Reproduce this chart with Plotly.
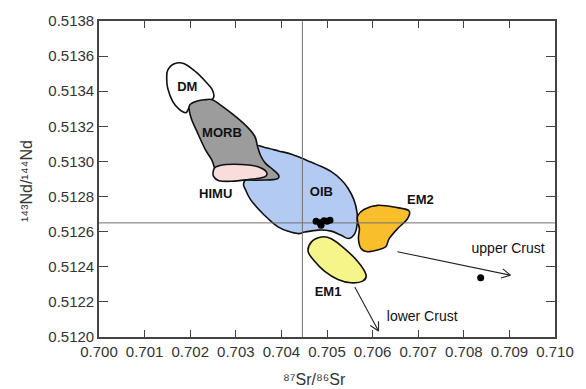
import math
import plotly.graph_objects as go

# Reservoir fields in Sr-Nd isotope space (outline vertices: 87Sr/86Sr, 143Nd/144Nd)
oib_sr = [0.703413, 0.703652, 0.703935, 0.704224, 0.704515, 0.704804, 0.705093, 0.705311,
          0.705457, 0.705587, 0.705659, 0.705659, 0.705609, 0.705478, 0.705311, 0.705093,
          0.704804, 0.704515, 0.704370, 0.704152, 0.703935, 0.703717, 0.703500, 0.703320,
          0.703211, 0.703174, 0.703326]
oib_nd = [0.513084, 0.513078, 0.513060, 0.513041, 0.513011, 0.512979, 0.512942, 0.512896,
          0.512849, 0.512784, 0.512709, 0.512637, 0.512589, 0.512561, 0.512579, 0.512603,
          0.512609, 0.512598, 0.512589, 0.512602, 0.512626, 0.512672, 0.512728, 0.512784,
          0.512840, 0.512877, 0.512961]

dm_sr = [0.701507, 0.701652, 0.701870, 0.702124, 0.702341, 0.702485, 0.702507, 0.702341,
         0.702124, 0.701978, 0.701907, 0.701761, 0.701615, 0.701507, 0.701485]
dm_nd = [0.513520, 0.513557, 0.513557, 0.513510, 0.513454, 0.513408, 0.513361, 0.513342,
         0.513334, 0.513306, 0.513278, 0.513296, 0.513342, 0.513417, 0.513473]

morb_sr = [0.701978, 0.702124, 0.702341, 0.702485, 0.702652, 0.702924, 0.703211, 0.703413,
           0.703478, 0.703543, 0.703652, 0.703826, 0.703935, 0.703913, 0.703652, 0.703211,
           0.702739, 0.702565, 0.702478, 0.702326, 0.702152, 0.702022]
morb_nd = [0.513315, 0.513342, 0.513352, 0.513352, 0.513324, 0.513271, 0.513207, 0.513145,
           0.513084, 0.513034, 0.512989, 0.512951, 0.512923, 0.512902, 0.512894, 0.512894,
           0.512900, 0.512944, 0.513006, 0.513070, 0.513168, 0.513246]

himu_sr = [0.702565, 0.702783, 0.703283, 0.703565, 0.703685, 0.703587, 0.703283, 0.702913,
           0.702630, 0.702511, 0.702511]
himu_nd = [0.512969, 0.512983, 0.512980, 0.512961, 0.512930, 0.512908, 0.512897, 0.512887,
           0.512890, 0.512916, 0.512950]

em1_sr = [0.704659, 0.704876, 0.705093, 0.705385, 0.705674, 0.705854, 0.705783, 0.705528,
          0.705239, 0.704950, 0.704733, 0.704587]
em1_nd = [0.512542, 0.512570, 0.512560, 0.512504, 0.512430, 0.512356, 0.512318, 0.512309,
          0.512328, 0.512374, 0.512430, 0.512486]

em2_sr = [0.705674, 0.705820, 0.706109, 0.706543, 0.706798, 0.706761, 0.706543, 0.706363,
          0.706289, 0.706109, 0.705891, 0.705746, 0.705689, 0.705711, 0.705674]
em2_nd = [0.512691, 0.512728, 0.512750, 0.512737, 0.512719, 0.512672, 0.512616, 0.512560,
          0.512514, 0.512496, 0.512486, 0.512504, 0.512560, 0.512616, 0.512654]

# Samples
sample_sr = [0.704761, 0.704848, 0.704870, 0.704935, 0.705000, 0.705065, 0.708370]
sample_nd = [0.512659, 0.512651, 0.512637, 0.512662, 0.512659, 0.512665, 0.512337]

# Bulk-earth reference values
bulk_sr = 0.70446
bulk_nd = 0.51265

# Mixing trends toward crustal end-members: (start Sr, start Nd, end Sr, end Nd)
upper_crust_arrow = (0.706543, 0.512486, 0.709022, 0.512352)
lower_crust_arrow = (0.705609, 0.512285, 0.706130, 0.512034)

# Field and end-member labels with their anchor positions
region_names = ["DM", "MORB", "HIMU", "OIB", "EM2", "EM1"]
region_label_sr = [0.701935, 0.702696, 0.702559, 0.704876, 0.707050, 0.705022]
region_label_nd = [0.513419, 0.513156, 0.512812, 0.512821, 0.512775, 0.512253]
crust_names = ["upper Crust", "lower Crust"]
crust_label_sr = [0.708972, 0.707087]
crust_label_nd = [0.512496, 0.512110]

x_title = "⁸⁷Sr/⁸⁶Sr"
y_title = "¹⁴³Nd/¹⁴⁴Nd"

x_range = [0.700, 0.710]
y_range = [0.5120, 0.5138]
x_ticks = [0.700, 0.701, 0.702, 0.703, 0.704, 0.705, 0.706, 0.707, 0.708, 0.709, 0.710]
y_ticks = [0.5120, 0.5122, 0.5124, 0.5126, 0.5128, 0.5130, 0.5132, 0.5134, 0.5136, 0.5138]

fields = [
    ("OIB", oib_sr, oib_nd, "#b3cbf3"),
    ("DM", dm_sr, dm_nd, "#ffffff"),
    ("MORB", morb_sr, morb_nd, "#9c9c9c"),
    ("HIMU", himu_sr, himu_nd, "#f9dcdc"),
    ("EM1", em1_sr, em1_nd, "#f5f58a"),
    ("EM2", em2_sr, em2_nd, "#f8be2c"),
]

WIDTH, HEIGHT = 586, 389
MARGIN = dict(l=99, r=27, t=15, b=52)
# Pixels per data unit along each axis (used for arrowhead geometry)
PX_X = (WIDTH - MARGIN["l"] - MARGIN["r"]) / (x_range[1] - x_range[0])
PX_Y = (HEIGHT - MARGIN["t"] - MARGIN["b"]) / (y_range[1] - y_range[0])
FONT = "Liberation Sans, Arial, sans-serif"


def closed_smooth_path(xs, ys):
    """Closed Catmull-Rom curve through the vertices, written as cubic Bezier SVG path."""
    n = len(xs)
    parts = [f"M {xs[0]},{ys[0]}"]
    for i in range(n):
        i0, i1, i2, i3 = (i - 1) % n, i, (i + 1) % n, (i + 2) % n
        c1x = xs[i1] + (xs[i2] - xs[i0]) / 6
        c1y = ys[i1] + (ys[i2] - ys[i0]) / 6
        c2x = xs[i2] - (xs[i3] - xs[i1]) / 6
        c2y = ys[i2] - (ys[i3] - ys[i1]) / 6
        parts.append(f"C {c1x:.7f},{c1y:.7f} {c2x:.7f},{c2y:.7f} {xs[i2]},{ys[i2]}")
    parts.append("Z")
    return " ".join(parts)


def open_head(x0, y0, x1, y1, length=10, half_angle=28):
    """Two barbs of an open V arrowhead at (x1, y1), measured in screen pixels."""
    dx, dy = (x1 - x0) * PX_X, (y1 - y0) * PX_Y
    ang = math.atan2(dy, dx)
    xs, ys = [], []
    for sgn in (1, -1):
        a = ang + math.pi - sgn * math.radians(half_angle)
        xs.append(x1 + length * math.cos(a) / PX_X)
        ys.append(y1 + length * math.sin(a) / PX_Y)
    return [xs[0], x1, xs[1]], [ys[0], y1, ys[1]]


fig = go.Figure()
for name, xs, ys, color in fields:
    fig.add_shape(type="path", path=closed_smooth_path(xs, ys), xref="x", yref="y",
                  fillcolor=color, line=dict(color="#111111", width=1.6), layer="below",
                  name=name)

# Bulk-earth crosshair
fig.add_trace(go.Scatter(x=[bulk_sr, bulk_sr], y=y_range, mode="lines",
                         line=dict(color="#707070", width=1), showlegend=False, hoverinfo="skip"))
fig.add_trace(go.Scatter(x=x_range, y=[bulk_nd, bulk_nd], mode="lines",
                         line=dict(color="#707070", width=1), showlegend=False, hoverinfo="skip"))

# Crustal mixing arrows
for x0, y0, x1, y1 in (upper_crust_arrow, lower_crust_arrow):
    fig.add_trace(go.Scatter(x=[x0, x1], y=[y0, y1], mode="lines",
                             line=dict(color="#222222", width=1.1),
                             showlegend=False, hoverinfo="skip"))
    hx, hy = open_head(x0, y0, x1, y1)
    fig.add_trace(go.Scatter(x=hx, y=hy, mode="lines",
                             line=dict(color="#222222", width=1.1),
                             showlegend=False, hoverinfo="skip"))

fig.add_trace(go.Scatter(x=sample_sr, y=sample_nd, mode="markers",
                         marker=dict(color="#000000", size=7), showlegend=False))

# Labels
fig.add_trace(go.Scatter(x=region_label_sr, y=region_label_nd, text=region_names,
                         mode="text", textposition="middle center",
                         textfont=dict(family=FONT, size=13, color="#111111", weight="bold"),
                         showlegend=False, hoverinfo="skip"))
fig.add_trace(go.Scatter(x=crust_label_sr, y=crust_label_nd, text=crust_names,
                         mode="text", textposition="middle center",
                         textfont=dict(family=FONT, size=14, color="#111111"),
                         showlegend=False, hoverinfo="skip"))

# Axis titles
fig.add_annotation(text=x_title, xref="paper", yref="paper",
                   x=0.4717, y=-0.135, showarrow=False, xanchor="center", yanchor="middle",
                   font=dict(family=FONT, size=16, color="#333333"))
fig.add_annotation(text=y_title, xref="paper", yref="paper",
                   x=-0.159, y=0.495, textangle=-90, showarrow=False,
                   xanchor="center", yanchor="middle",
                   font=dict(family=FONT, size=16, color="#333333"))

axis_common = dict(
    showgrid=False, zeroline=False, showline=True, linecolor="#444444", linewidth=1.6,
    ticks="inside", tickcolor="#444444", tickwidth=1.4, mirror="ticks",
    tickfont=dict(family=FONT, size=15, color="#333333"),
)
fig.update_xaxes(range=x_range, tickvals=x_ticks, ticktext=[f"{v:.3f}" for v in x_ticks],
                 ticklen=7, **axis_common)
fig.update_yaxes(range=y_range, tickvals=y_ticks, ticktext=[f"{v:.4f}" for v in y_ticks],
                 ticklen=9, **axis_common)

fig.update_layout(
    width=WIDTH, height=HEIGHT,
    margin=MARGIN,
    plot_bgcolor="white", paper_bgcolor="white",
    showlegend=False,
)

fig.write_html("out.html")
